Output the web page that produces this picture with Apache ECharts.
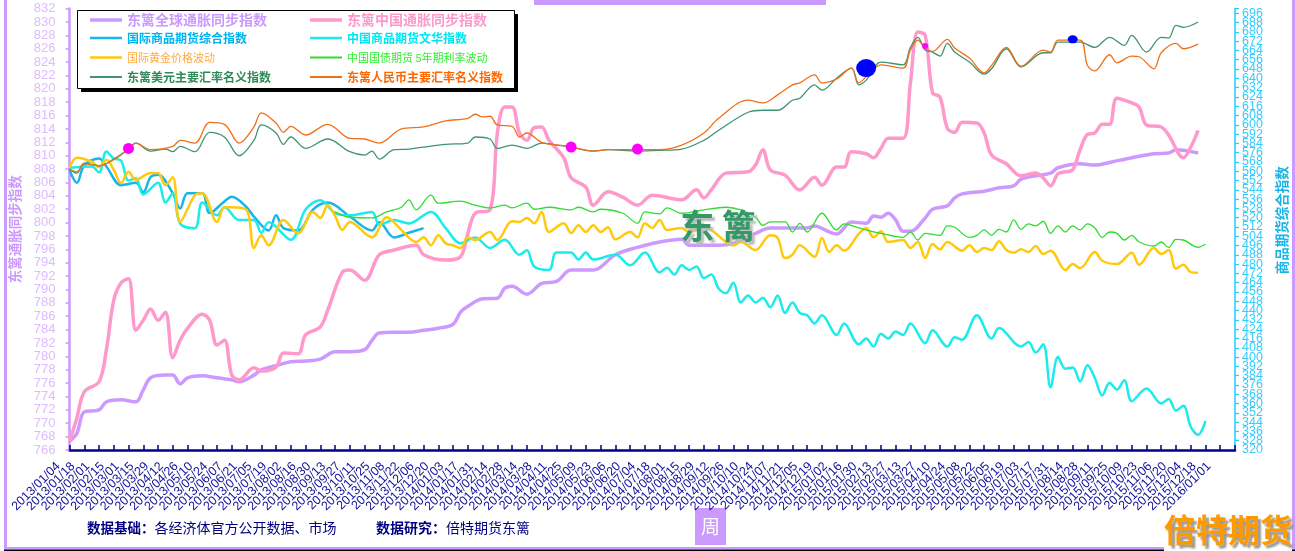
<!DOCTYPE html>
<html><head><meta charset="utf-8">
<style>html,body{margin:0;padding:0;background:#fff}#c{width:1295px;height:551px}</style>
<script src="https://cdn.jsdelivr.net/npm/echarts@6/dist/echarts.min.js"></script>
</head><body><div id="c"></div>
<script>
const tickLabels = ["2013/01/04","2013/01/18","2013/02/01","2013/02/15","2013/03/01","2013/03/15","2013/03/29","2013/04/12","2013/04/26","2013/05/10","2013/05/24","2013/06/07","2013/06/21","2013/07/05","2013/07/19","2013/08/02","2013/08/16","2013/08/30","2013/09/13","2013/09/27","2013/10/11","2013/10/25","2013/11/08","2013/11/22","2013/12/06","2013/12/20","2014/01/03","2014/01/17","2014/01/31","2014/02/14","2014/02/28","2014/03/14","2014/03/28","2014/04/11","2014/04/25","2014/05/09","2014/05/23","2014/06/06","2014/06/20","2014/07/04","2014/07/18","2014/08/01","2014/08/15","2014/08/29","2014/09/12","2014/09/26","2014/10/10","2014/10/24","2014/11/07","2014/11/21","2014/12/05","2014/12/19","2015/01/02","2015/01/16","2015/01/30","2015/02/13","2015/02/27","2015/03/13","2015/03/27","2015/04/10","2015/04/24","2015/05/08","2015/05/22","2015/06/05","2015/06/19","2015/07/03","2015/07/17","2015/07/31","2015/08/14","2015/08/28","2015/09/11","2015/09/25","2015/10/09","2015/10/23","2015/11/06","2015/11/20","2015/12/04","2015/12/18","2016/01/01"];
// Each point is [week number since 2013/01/04, value]
const globalSync = [[0,767.3],[1,768.5],[2,771.7],[4,772.0],[5,773.2],[7,773.5],[9,773.2],[10,775.0],[11,776.8],[13,777.2],[14,777.2],[15,775.9],[16,776.8],[18,777.1],[20,776.8],[22,776.5],[23,776.2],[25,777.2],[26,778.0],[28,778.6],[30,779.2],[32,779.3],[34,779.6],[36,780.7],[38,780.7],[40,781.0],[41,782.4],[42,783.5],[44,783.6],[46,783.6],[48,783.9],[50,784.2],[52,784.8],[53,786.6],[54,787.5],[56,788.6],[58,788.7],[59,790.2],[60,790.5],[62,789.3],[64,790.9],[66,791.2],[68,792.9],[71,792.9],[74,795.2],[77,796.3],[80,797.1],[83,797.5],[84,796.6],[88,796.6],[90,796.9],[93,798.4],[95,799.2],[100,799.2],[101,799.5],[103,798.6],[104,798.3],[106,800.1],[108,799.9],[109,801.0],[110,800.8],[111,801.4],[112,800.4],[113,798.7],[114,798.7],[116,800.7],[117,802.0],[119,802.5],[120,803.7],[121,804.3],[124,804.7],[126,805.2],[128,805.5],[129,806.5],[131,807.0],[133,807.4],[134,808.2],[137,808.8],[139,808.6],[141,809.0],[144,809.7],[147,810.3],[149,810.4],[150,810.9],[153,810.4]];
const chinaSync = [[0,767.3],[1,770.8],[2,774.7],[4,776.2],[5,781.0],[6,788.4],[7,791.0],[8,791.6],[9,783.9],[10,785.4],[11,787.1],[12,785.4],[13,786.6],[14,779.8],[15,782.4],[16,784.2],[18,786.3],[19,785.4],[20,781.7],[21,782.4],[22,777.2],[23,776.5],[25,778.3],[26,777.8],[28,778.4],[29,780.5],[31,780.4],[32,783.2],[34,784.4],[35,786.9],[37,792.6],[38,792.9],[40,791.4],[42,795.2],[44,795.9],[47,796.6],[48,795.2],[51,794.4],[53,794.9],[54,798.4],[55,801.4],[57,801.9],[58,813.4],[59,817.3],[60,817.3],[61,813.4],[62,812.3],[63,814.2],[64,814.3],[65,812.3],[67,809.7],[68,806.7],[70,805.3],[71,802.6],[73,804.6],[75,803.8],[77,802.6],[79,804.1],[83,803.4],[85,804.9],[86,803.7],[87,804.9],[89,807.4],[92,807.6],[93,808.6],[94,810.9],[95,807.9],[97,807.1],[99,804.9],[101,806.8],[102,805.6],[104,808.3],[105,808.3],[106,810.6],[108,810.3],[109,809.7],[110,811.1],[111,812.6],[113,812.6],[114,820.9],[115,828.5],[116,828.0],[117,819.4],[118,818.8],[119,814.1],[120,813.5],[121,815.0],[123,814.9],[124,813.4],[125,810.1],[127,808.8],[129,807.0],[131,807.4],[132,806.7],[133,805.5],[134,807.3],[135,807.6],[136,807.9],[137,810.9],[138,813.2],[139,813.4],[140,814.7],[141,814.7],[142,818.6],[144,817.9],[145,817.3],[146,814.6],[148,814.3],[149,813.1],[151,809.7],[152,811.3],[153,813.8]];
const intlCommodity = [[0,561],[1,550],[2,565],[4,571],[5,564],[7,548],[9,550],[10,542],[11,555],[12,557],[14,541],[15,528],[16,541],[18,541],[19,524],[21,534],[22,538],[24,529],[25,521],[27,509],[28,522],[29,511],[31,509],[33,527],[35,533],[38,521],[41,509],[42,516],[44,503],[46,507],[48,511]];
const chinaCommodity = [[0,563],[3,564],[4,559],[5,577],[6,571],[7,569],[8,552],[9,554],[10,540],[12,550],[13,533],[14,541],[15,515],[17,511],[18,533],[20,522],[21,529],[23,518],[25,518],[26,507],[27,516],[30,501],[32,527],[34,535],[36,524],[38,522],[41,525],[42,514],[44,518],[46,515],[49,525],[51,511],[53,498],[55,503],[57,494],[59,501],[61,488],[62,492],[63,478],[65,475],[66,490],[68,490],[69,484],[70,490],[71,484],[74,488],[76,479],[78,490],[80,473],[81,477],[82,471],[83,479],[84,475],[85,478],[86,468],[87,471],[88,459],[89,455],[90,464],[91,447],[92,453],[93,447],[94,451],[95,443],[96,453],[97,438],[98,447],[99,438],[100,436],[101,429],[102,436],[104,419],[105,429],[107,411],[108,416],[109,409],[110,420],[111,416],[112,422],[113,419],[114,429],[116,412],[117,423],[119,409],[120,417],[121,415],[123,436],[125,416],[126,425],[129,409],[130,413],[131,404],[132,411],[133,374],[134,400],[135,390],[136,391],[137,379],[138,393],[139,382],[140,367],[141,378],[142,372],[143,380],[144,362],[146,373],[148,360],[149,364],[150,354],[151,358],[152,340],[153,333],[154,345]];
const goldVol = [[0,808.2],[1,809.7],[3,809.1],[4,808.3],[5,809.4],[6,807.9],[7,805.9],[8,807.6],[9,806.4],[11,807.4],[12,807.4],[13,805.6],[14,806.8],[15,800.1],[17,804.1],[18,804.4],[20,800.1],[21,802.3],[22,802.3],[24,801.9],[25,796.2],[26,798.1],[27,796.6],[29,800.4],[31,798.4],[33,801.6],[34,800.7],[35,802.6],[36,801.0],[37,798.9],[38,800.1],[41,797.8],[43,800.8],[45,798.9],[47,797.1],[48,797.8],[49,796.6],[50,798.1],[51,796.9],[52,796.6],[53,796.2],[54,797.8],[55,797.4],[57,798.6],[58,797.4],[60,800.2],[61,800.1],[62,800.7],[63,799.9],[64,801.6],[65,798.6],[67,799.9],[68,798.4],[69,799.6],[70,798.6],[71,799.6],[72,798.6],[73,799.3],[74,797.5],[76,798.6],[77,797.8],[78,799.9],[79,799.2],[80,800.4],[81,798.9],[83,799.2],[84,798.6],[86,799.2],[87,798.9],[89,797.1],[90,796.6],[91,797.1],[93,795.9],[95,798.1],[96,797.7],[97,794.7],[98,795.2],[99,796.6],[101,794.9],[102,797.7],[103,795.6],[104,796.6],[105,795.8],[107,798.3],[108,799.2],[109,797.8],[110,798.7],[111,797.1],[113,797.4],[114,796.2],[115,797.1],[116,794.7],[117,796.8],[118,796.0],[119,797.1],[121,795.8],[122,796.6],[123,795.6],[124,796.2],[125,795.9],[126,797.2],[127,795.9],[128,795.5],[129,796.0],[130,795.6],[131,796.5],[132,795.3],[133,795.8],[135,792.9],[136,793.8],[137,793.2],[139,795.6],[140,794.3],[142,793.8],[144,795.5],[145,793.7],[147,796.2],[148,795.3],[149,795.9],[150,793.1],[151,793.7],[152,792.6],[153,792.5]];
const bondVol = [[36,801.6],[38,800.8],[41,800.7],[43,801.6],[45,802.3],[46,803.4],[47,801.9],[49,804.1],[50,802.9],[53,803.2],[55,802.6],[57,802.2],[59,802.6],[60,802.2],[62,802.9],[63,802.0],[65,802.3],[68,801.9],[69,802.3],[71,801.6],[72,802.0],[75,801.4],[77,799.9],[78,801.6],[80,801.3],[81,802.2],[83,801.4],[86,801.9],[89,802.3],[91,801.9],[93,800.8],[94,799.6],[95,800.1],[97,800.1],[98,798.6],[99,799.9],[100,798.6],[102,801.4],[104,798.9],[105,799.8],[107,799.2],[110,798.4],[113,797.8],[114,798.6],[115,797.4],[116,798.4],[118,798.1],[119,799.5],[120,799.3],[122,797.8],[123,798.1],[124,798.9],[125,798.1],[126,799.0],[127,798.6],[128,800.4],[129,799.0],[130,799.8],[131,799.5],[132,800.2],[133,798.4],[134,799.5],[135,798.6],[136,799.5],[137,798.9],[138,799.8],[139,799.2],[140,797.8],[141,798.6],[142,798.4],[143,797.4],[144,798.1],[145,797.1],[147,796.5],[148,797.1],[149,796.3],[150,797.5],[151,797.4],[153,796.3],[154,796.8]];
const usdIndex = [[0,808],[1,807.4],[2,808.9],[4,808.5],[6,809.5],[8,811.0],[9,811.9],[11,810.7],[13,811.0],[14,810.6],[15,811.4],[17,810.6],[19,813.5],[21,812.8],[23,810.0],[25,812.3],[26,814.6],[28,813.4],[29,811.7],[30,812.8],[32,811.1],[35,812.5],[38,810.6],[40,810.1],[41,810.7],[42,809.5],[44,810.9],[46,811.0],[48,811.3],[51,811.7],[54,811.9],[55,812.8],[57,812.5],[58,811.1],[60,811.6],[62,811.1],[64,811.9],[66,811.6],[68,811.3],[71,810.7],[73,810.9],[77,810.7],[80,810.8],[83,811.0],[86,812.3],[88,813.8],[92,816.5],[94,816.8],[96,816.8],[98,818.3],[99,818.6],[101,820.6],[102,819.8],[104,821.6],[106,823.1],[107,820.6],[108,821.3],[110,824.0],[113,823.6],[114,826.2],[115,827.7],[116,825.8],[117,825.5],[118,824.9],[119,826.8],[120,825.5],[122,824.0],[124,822.2],[125,823.0],[127,826.0],[129,823.3],[132,825.4],[133,825.4],[134,827.0],[137,827.0],[139,826.2],[141,827.7],[143,826.5],[144,828.0],[146,825.5],[148,827.7],[149,827.6],[150,829.5],[151,829.2],[153,830.0]];
const rmbIndex = [[0,808],[1,807.6],[2,808.8],[4,808.5],[6,809.4],[8,811.0],[9,811.9],[11,810.9],[14,811.4],[15,812.3],[17,811.9],[19,815.0],[21,814.7],[23,811.9],[25,814.3],[26,816.4],[28,814.9],[29,813.5],[30,814.4],[32,813.1],[35,814.7],[38,812.6],[40,812.5],[42,811.9],[45,814.0],[48,814.3],[51,815.2],[54,815.6],[55,816.2],[56,815.8],[57,815.9],[58,814.6],[60,814.4],[61,812.8],[62,813.4],[64,812.0],[67,811.5],[68,811.3],[71,810.7],[73,810.9],[77,810.9],[80,810.9],[83,811.6],[86,813.4],[88,815.6],[92,818.3],[94,817.9],[96,819.1],[98,820.6],[99,820.9],[101,822.1],[102,820.9],[104,821.5],[106,823.1],[107,820.9],[108,821.8],[110,823.6],[113,823.1],[114,825.8],[115,827.3],[116,826.1],[117,825.6],[119,827.4],[120,826.1],[122,824.6],[124,822.4],[125,823.5],[127,826.2],[129,823.4],[132,825.8],[133,825.5],[134,827.3],[137,827.3],[138,823.5],[139,822.7],[141,825.1],[142,823.9],[144,824.9],[145,824.8],[147,823.0],[148,825.4],[150,826.8],[151,826.0],[153,826.7]];
// Highlight dots: [week, value, width, height, colour]
const highlightDots = [[8,811.1,11,11,"#FF00FF"],[68,811.3,11,11,"#FF00FF"],[77,811.0,11,11,"#FF00FF"],[116,826.4,6,6,"#FF00FF"],[108,823.1,20,18,"#0000FF"],[136,827.4,10,8,"#0000FF"]];

const CJK = '"Noto Sans CJK SC","Liberation Sans",sans-serif';
const LAT = '"Liberation Sans",Arial,sans-serif';
const defs = [
 {name:'东篱全球通胀同步指数',data:globalSync,color:'#CC99FF',w:3.5,tc:'#CC99FF',fs:14,b:'bold',col:0,row:0,y:0},
 {name:'东篱中国通胀同步指数',data:chinaSync,color:'#FF99CC',w:3.5,tc:'#FF99CC',fs:14,b:'bold',col:1,row:0,y:0},
 {name:'国际商品期货综合指数',data:intlCommodity,color:'#19B4E8',w:2.5,tc:'#00B4F0',fs:12,b:'bold',col:0,row:1,y:1},
 {name:'中国商品期货文华指数',data:chinaCommodity,color:'#1CEBEB',w:2.5,tc:'#00E6F0',fs:12,b:'bold',col:1,row:1,y:1},
 {name:'国际黄金价格波动',data:goldVol,color:'#FFC90E',w:2.5,tc:'#FFAA44',fs:11,b:'normal',col:0,row:2,y:0},
 {name:'中国国债期货 5年期利率波动',data:bondVol,color:'#2FDC2F',w:1.3,tc:'#33EE33',fs:11,b:'normal',col:1,row:2,y:0},
 {name:'东篱美元主要汇率名义指数',data:usdIndex,color:'#3F9470',w:1.3,tc:'#2E8B57',fs:12,b:'bold',col:0,row:3,y:0},
 {name:'东篱人民币主要汇率名义指数',data:rmbIndex,color:'#F0701A',w:1.3,tc:'#FF6600',fs:12,b:'bold',col:1,row:3,y:0}
];
const rowTop = [13,32,52,71];
const colLeft = [90,310];
const series = defs.map(d=>({
  name:d.name,type:'line',yAxisIndex:d.y,data:d.data,smooth:0.35,showSymbol:false,symbol:'none',
  lineStyle:{color:d.color,width:d.w},itemStyle:{color:d.color},emphasis:{disabled:true},animation:false
}));
series[7].markPoint = {
  symbol:'circle',animation:false,silent:true,label:{show:false},
  data:highlightDots.map(p=>({coord:[p[0],p[1]],symbolSize:[p[2],p[3]],itemStyle:{color:p[4]}}))
};
const option = {
  animation:false,backgroundColor:'#fff',
  grid:{left:69.5,right:60,top:8.6,bottom:101,outerBoundsMode:'none',containLabel:false},
  legend:defs.map(d=>({
    data:[{name:d.name,icon:'rect'}],left:colLeft[d.col],top:rowTop[d.row],itemWidth:32,itemHeight:Math.max(2,d.w),itemGap:0,
    padding:0,selectedMode:false,itemStyle:{color:d.color},
    textStyle:{color:d.tc,fontSize:d.fs,fontWeight:d.b,fontFamily:CJK}
  })),
  xAxis:{type:'category',boundaryGap:false,data:[...tickLabels.flatMap(l=>[l,'']),''],
    axisLine:{lineStyle:{color:'#000088',width:2.5}},
    axisTick:{interval:1,inside:true,length:5,lineStyle:{color:'#000088',width:1.5}},
    axisLabel:{interval:0,rotate:45,fontSize:12.5,color:'#111199',fontFamily:LAT,margin:3,padding:[0,16,0,0],hideOverlap:false},
    splitLine:{show:false}},
  yAxis:[
   {type:'value',min:766,max:832,interval:2,position:'left',
    name:'东篱通胀同步指数',nameLocation:'middle',nameRotate:90,nameGap:48,
    nameTextStyle:{color:'#CC99FF',fontSize:13.5,fontWeight:'bold',fontFamily:CJK},
    axisLine:{show:true,lineStyle:{color:'#CC99FF',width:2.5}},
    axisTick:{show:true,length:4,lineStyle:{color:'#CC99FF',width:1.5}},
    axisLabel:{color:'#DDBBFF',fontSize:13,fontFamily:LAT,margin:14,showMinLabel:true,showMaxLabel:true},splitLine:{show:false}},
   {type:'value',min:320,max:700,interval:8,position:'right',
    name:'商品期货综合指数',nameLocation:'middle',nameRotate:90,nameGap:40,
    nameTextStyle:{color:'#19B4E8',fontSize:13.5,fontWeight:'bold',fontFamily:CJK,padding:[0,0,0,18]},
    axisLine:{show:true,lineStyle:{color:'#22CCFF',width:1.5}},
    axisTick:{show:true,length:4,lineStyle:{color:'#22CCFF',width:1.2}},
    axisLabel:{color:'#33CCFF',fontSize:12.5,fontFamily:LAT,margin:7,showMinLabel:false,formatter:v=>v===700?'':String(v)},splitLine:{show:false}}
  ],
  graphic:[
   {type:'rect',silent:true,z:0,shape:{x:81,y:14,width:437,height:78},style:{fill:'#000'}},
   {type:'rect',silent:true,z:0,shape:{x:77.5,y:10.5,width:437,height:78},style:{fill:'#fff',stroke:'#000',lineWidth:1}},
   {type:'rect',silent:true,shape:{x:4,y:0,width:3,height:549},style:{fill:'#CC99FF'}},
   {type:'rect',silent:true,shape:{x:1292,y:0,width:3,height:549},style:{fill:'#CC99FF'}},
   {type:'rect',silent:true,shape:{x:4,y:547,width:1291,height:2.5},style:{fill:'#CC99FF'}},
   {type:'rect',silent:true,shape:{x:4,y:549.5,width:1291,height:1.5},style:{fill:'#000'}},
   {type:'rect',silent:true,shape:{x:534,y:0,width:292,height:5},style:{fill:'#CC99FF'}},
   {type:'rect',silent:true,shape:{x:695,y:508,width:31,height:37},style:{fill:'#CC99FF'}},
   {type:'text',silent:true,style:{x:710.5,y:527,text:'周',fill:'#fff',fontSize:19,fontFamily:CJK,align:'center',verticalAlign:'middle'}},
   {type:'text',silent:true,style:{x:1242,y:450,text:'320',fill:'#33CCFF',fontSize:12.5,fontFamily:LAT,align:'left',verticalAlign:'middle'}},
   {type:'text',silent:true,style:{x:87,y:528,text:'{b|数据基础：}{n|各经济体官方公开数据、市场}',verticalAlign:'middle',
     rich:{b:{fontSize:13.5,fontWeight:'bold',fill:'#000080',fontFamily:CJK},n:{fontSize:14,fill:'#000080',fontFamily:CJK}}}},
   {type:'text',silent:true,style:{x:376,y:528,text:'{b|数据研究：}{n|倍特期货东篱}',verticalAlign:'middle',
     rich:{b:{fontSize:14,fontWeight:'bold',fill:'#000080',fontFamily:CJK},n:{fontSize:14,fill:'#000080',fontFamily:CJK}}}},
   {type:'rect',silent:true,shape:{x:1164,y:511,width:128,height:40},style:{fill:'#fff'}},
   {type:'text',silent:true,z:10,style:{x:1228,y:530,text:'倍特期货',fill:'#FF9900',fontSize:32,fontWeight:'bold',fontFamily:'"Noto Sans CJK SC"',align:'center',verticalAlign:'middle',textShadowColor:'#999',textShadowBlur:2,textShadowOffsetX:3,textShadowOffsetY:3}},
   {type:'text',silent:true,z:10,style:{x:718,y:226,text:'东 篱',fill:'#339966',fontSize:34,fontWeight:'bold',fontFamily:'"Noto Sans CJK SC"',align:'center',verticalAlign:'middle',textShadowColor:'#bbb',textShadowBlur:2,textShadowOffsetX:3,textShadowOffsetY:3}}
  ],
  series
};
echarts.init(document.getElementById('c'),null,{renderer:'canvas'}).setOption(option);
</script></body></html>
